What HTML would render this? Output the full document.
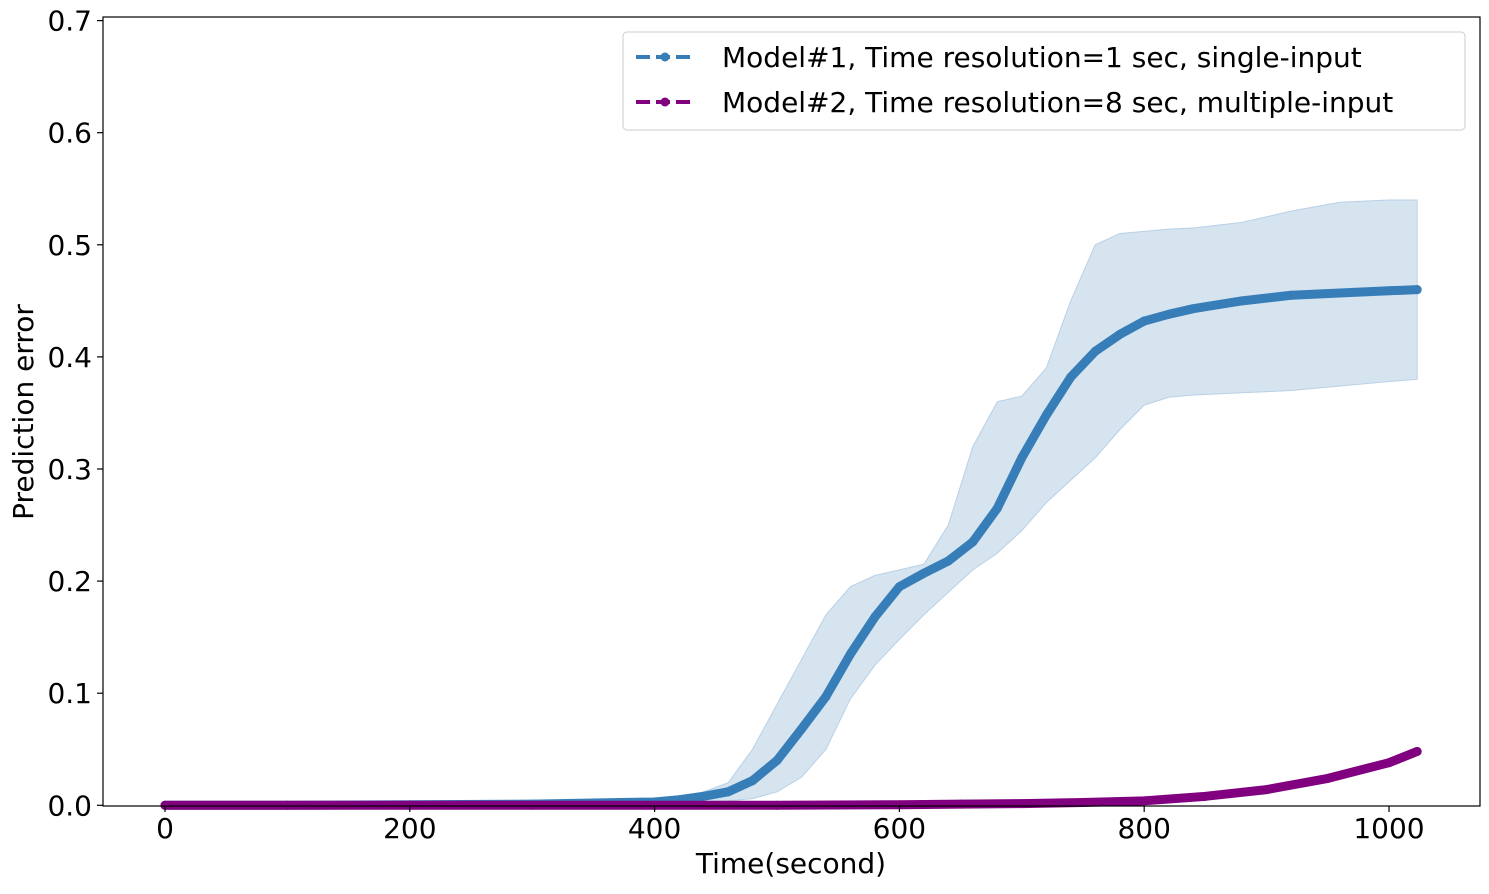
<!DOCTYPE html>
<html><head><meta charset="utf-8"><style>
html,body{margin:0;padding:0;background:#fff;}
svg text{font-family:"DejaVu Sans","Liberation Sans",sans-serif;fill:#000;}
</style></head><body>
<svg id="chart" width="1489" height="889" xmlns="http://www.w3.org/2000/svg">
<g id="plot"></g>
<g id="axes"></g>
<g id="legend">
<rect x="623" y="32" width="842" height="98" rx="4" fill="#fff" fill-opacity="0.8" stroke="#ccc" stroke-width="1"/>
<g>
<line x1="636" y1="57" x2="693" y2="57" stroke="#377eb8" stroke-width="4" stroke-dasharray="14,6"/>
<circle cx="665" cy="57" r="4.5" fill="#377eb8"/>
<text x="722" y="67" font-size="28">Model#1, Time resolution=1 sec, single-input</text>
</g>
<g>
<line x1="636" y1="102" x2="693" y2="102" stroke="#800080" stroke-width="4" stroke-dasharray="14,6"/>
<circle cx="665" cy="102" r="4.5" fill="#800080"/>
<text x="722" y="112" font-size="28">Model#2, Time resolution=8 sec, multiple-input</text>
</g>
</g>
</svg>
<script>
const m1Times=[0,100,200,300,350,400,420,440,460,480,500,520,540,560,580,600,620,640,660,680,700,720,740,760,780,800,820,840,880,920,960,1000,1023];
const m1Mean=[0,0,0.0005,0.001,0.002,0.003,0.005,0.008,0.012,0.022,0.04,0.068,0.097,0.135,0.168,0.195,0.207,0.218,0.235,0.265,0.31,0.348,0.382,0.405,0.42,0.432,0.438,0.443,0.45,0.455,0.457,0.459,0.46];
const m1Upper=[0,0.0005,0.001,0.002,0.003,0.005,0.008,0.012,0.02,0.05,0.09,0.13,0.17,0.195,0.205,0.21,0.215,0.25,0.32,0.36,0.365,0.39,0.45,0.5,0.51,0.512,0.514,0.515,0.52,0.53,0.538,0.54,0.54];
const m1Lower=[0,0,0,0,0,0.001,0.002,0.003,0.004,0.006,0.012,0.025,0.05,0.095,0.125,0.148,0.17,0.19,0.21,0.225,0.245,0.27,0.29,0.31,0.335,0.357,0.364,0.366,0.368,0.37,0.374,0.378,0.38];
const m2Times=[0,100,200,300,400,500,600,650,700,750,800,850,900,950,1000,1023];
const m2Mean=[0,0,0,0,0,0,0.0005,0.001,0.0015,0.0025,0.004,0.008,0.014,0.024,0.038,0.048];
const xTicks=[0,200,400,600,800,1000];
const yTicks=[0.0,0.1,0.2,0.3,0.4,0.5,0.6,0.7];

const NS="http://www.w3.org/2000/svg";
const X=v=>165+1.224*v;
const Y=v=>805.3-1121*v;
function mk(tag,attrs,parent){const e=document.createElementNS(NS,tag);for(const k in attrs)e.setAttribute(k,attrs[k]);parent.appendChild(e);return e;}
const plot=document.getElementById('plot');
const axes=document.getElementById('axes');

// band
let d='M'+m1Times.map((t,i)=>X(t)+','+Y(m1Upper[i])).join(' L');
for(let i=m1Times.length-1;i>=0;i--)d+=' L'+X(m1Times[i])+','+Y(m1Lower[i]);
d+='Z';
const band=mk('path',{d:d,fill:'#d6e4f0',stroke:'#b8d0e6','stroke-width':1},plot);



function series(times,vals,color,name){
  const g=mk('g',{},plot);
  
  
  const pts=times.map((t,i)=>X(t)+','+Y(vals[i])).join(' ');
  mk('polyline',{points:pts,fill:'none',stroke:color,'stroke-width':9,'stroke-linecap':'round','stroke-linejoin':'round'},g);
  times.forEach((t,i)=>{
    const c=mk('circle',{cx:X(t),cy:Y(vals[i]),r:4.5,fill:color},g);
    
    
  });
}
series(m1Times,m1Mean,'#377eb8','model1-series');
series(m2Times,m2Mean,'#800080','model2-series');

// spines
const frame=mk('rect',{x:103,y:17,width:1377,height:789,fill:'none',stroke:'#000','stroke-width':1.2},axes);


xTicks.forEach(v=>{
  mk('line',{x1:X(v),x2:X(v),y1:806,y2:812,stroke:'#000','stroke-width':1.2},axes);
  const t=mk('text',{x:X(v),y:838,'font-size':28,'text-anchor':'middle'},axes);
  t.textContent=String(v);
  
  
});
yTicks.forEach(v=>{
  mk('line',{x1:97,x2:103,y1:Y(v),y2:Y(v),stroke:'#000','stroke-width':1.2},axes);
  const t=mk('text',{x:92,y:Y(v)+10,'font-size':28,'text-anchor':'end'},axes);
  t.textContent=v.toFixed(1);
  
  
});
const xt=mk('text',{x:791,y:873,'font-size':28,'text-anchor':'middle'},axes);
xt.textContent='Time(second)';


const yt=mk('text',{x:0,y:0,'font-size':28,'text-anchor':'middle',transform:'translate(33,412) rotate(-90)'},axes);
yt.textContent='Prediction error';


</script>
</body></html>
